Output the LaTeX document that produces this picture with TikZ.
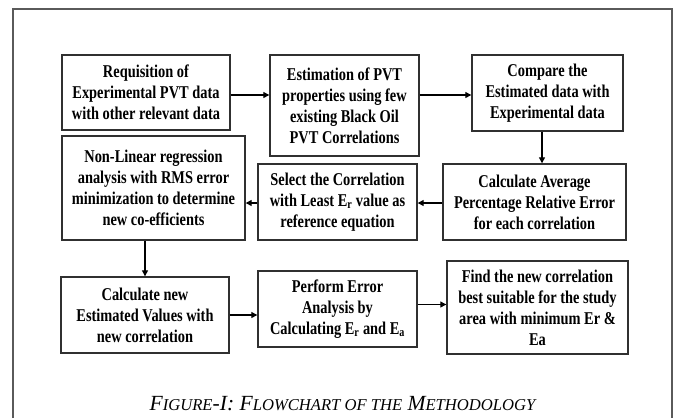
\documentclass[tikz,border=0pt]{standalone}
\usepackage{fontspec}
\setmainfont{Liberation Serif}
\newfontfamily\boxfont[FakeStretch=0.8]{Liberation Serif}
\newfontfamily\capfont{Liberation Serif}
\usetikzlibrary{arrows.meta}
\definecolor{boxline}{HTML}{303030}
\definecolor{frameline}{HTML}{5A5A5A}
\newcommand\smcap[1]{{\fontsize{16.6}{16}\selectfont #1}}
\tikzset{
  box/.style={draw=boxline, line width=1.4pt, align=center, inner sep=0pt,
    font=\boxfont\bfseries\fontsize{18}{21}\selectfont},
  dims/.style 2 args={minimum width=#1pt, minimum height=#2pt},
  arr/.style={line width=1.2pt, -{Triangle[length=6pt,width=6pt]}},
}
\begin{document}
\begin{tikzpicture}[x=1pt,y=-1pt]
\useasboundingbox (0,0) rectangle (676,418);
\draw[frameline, line width=1.4pt] (13,418) -- (13,9) -- (672,9) -- (672,418);

\node[box, dims={168}{75}]  (b1) at (146,92.5)   {Requisition of\\Experimental PVT data\\with other relevant data};
\node[box, dims={149}{101}] (b2) at (344.5,105.5) {Estimation of PVT\\properties using few\\existing Black Oil\\PVT Correlations};
\node[box, dims={151}{76}]  (b3) at (547.5,93)   {Compare the\\Estimated data with\\Experimental data};
\node[box, dims={183}{104}] (b4) at (153.5,188)  {Non-Linear regression\\analysis with RMS error\\minimization to determine\\new co-efficients};
\node[box, dims={159}{76}]  (b5) at (337.5,202)  {Select the Correlation\\with Least E\textsubscript{r} value as\\reference equation};
\node[box, dims={183}{76}]  (b6) at (534.5,202)  {Calculate Average\\Percentage Relative Error\\for each correlation};
\node[box, dims={168}{76}]  (b7) at (145,315)    {Calculate new\\Estimated Values with\\new correlation};
\node[box, dims={159}{76}]  (b8) at (337.5,309)  {Perform Error\\Analysis by\\Calculating E\textsubscript{r} and E\textsubscript{a}};
\node[box, dims={181}{93}]  (b9) at (537.5,307.5) {Find the new correlation\\best suitable for the study\\area with minimum Er \&\\Ea};

\draw[arr] ([yshift=-2.5pt]b1.east) -- ([yshift=-2.5pt]b1.east -| b2.west);
\draw[arr] ([yshift=10.5pt]b2.east) -- ([yshift=10.5pt]b2.east -| b3.west);
\draw[arr] ([xshift=-5.5pt]b3.south) -- ([xshift=-5.5pt]b3.south |- b6.north);
\draw[arr] ([yshift=-1pt]b6.west) -- ([yshift=-1pt]b6.west -| b5.east);
\draw[arr] ([yshift=-1pt]b5.west) -- ([yshift=-1pt]b5.west -| b4.east);
\draw[arr] (b4.south -| b7.north) -- (b7.north);
\draw[arr] (b7.east) -- (b7.east -| b8.west);
\draw[arr] ([yshift=4.5pt]b8.east) -- ([yshift=4.5pt]b8.east -| b9.west);

\node[anchor=base, inner sep=0pt, font=\capfont\itshape\fontsize{21.6}{21}\selectfont] (cap) at (342.5,410)
  {F\smcap{IGURE}-I: F\smcap{LOWCHART OF THE} M\smcap{ETHODOLOGY}};
\end{tikzpicture}
\end{document}
